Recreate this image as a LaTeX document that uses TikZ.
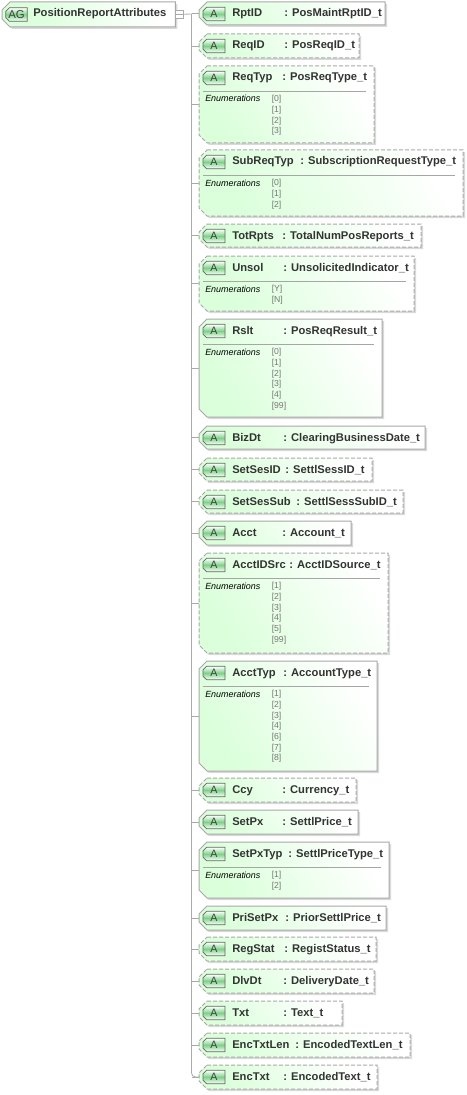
\documentclass[tikz,border=0pt]{standalone}
\usepackage{fontspec}
\setmainfont{Liberation Sans}
\usetikzlibrary{positioning,calc,shadows}

\definecolor{boxgreen}{RGB}{218,255,218}
\definecolor{badgegreen}{RGB}{125,210,135}
\definecolor{treegray}{RGB}{170,170,170}
\definecolor{edgegray}{RGB}{168,168,168}
\definecolor{enumgray}{RGB}{120,120,120}
\tikzset{
 boxnode/.style={rectangle,anchor=north west,inner sep=0pt,outer sep=0pt},
 boxshape/.style={draw=edgegray,line width=.75pt,top color=white,bottom color=boxgreen,shading angle=-60,
  drop shadow={shadow xshift=1.5pt,shadow yshift=-1.5pt,fill=black!25,opacity=.6}},
 attrreq/.style={boxshape},
 attropt/.style={boxshape,dash pattern=on 3pt off 1.5pt},
 badgenode/.style={rectangle,inner sep=0pt,outer sep=0pt,minimum width=16.5pt,minimum height=10pt},
 badgeshape/.style={draw=black!60,line width=.6pt,top color=white,bottom color=white,middle color=badgegreen},
 badgetext/.style={inner sep=0pt,font=\fontsize{8}{8}\selectfont,text=black!75},
 attrtext/.style={anchor=base west,inner sep=0pt,font=\fontsize{8.4}{9}\selectfont\bfseries,text=black!80},
 enumhead/.style={anchor=base west,inner sep=0pt,font=\fontsize{6.7}{7}\selectfont\itshape},
 enumval/.style={anchor=base west,inner sep=0pt,font=\fontsize{6.5}{7}\selectfont,text=enumgray},
 treeline/.style={draw=treegray,line width=.6pt},
}
\newcommand{\cutbox}[3]{%
\draw[#1] ($(#2.north west)+(#3,0)$) -- (#2.north east) -- (#2.south east)
 -- ($(#2.south west)+(#3,0)$) -- ($(#2.south west)+(0,-#3)$) -- ($(#2.north west)+(0,#3)$) -- cycle;}

\begin{document}
\begin{tikzpicture}[x=.75pt,y=-.75pt]
\useasboundingbox (0,0) rectangle (467,1095);
% root group
\node[boxnode,minimum width=130pt,minimum height=18.75pt] (root) at (2,2) {};
\cutbox{boxshape}{root}{8}
\node[badgenode,minimum width=16pt] (rootbadge) at (16.5,14.5) {};
\cutbox{badgeshape}{rootbadge}{3.5}
\node[badgetext,font=\fontsize{8.5}{8}\selectfont] (rootletters) at (rootbadge) {AG};
\node[attrtext] (roottext) at (33,17) {PositionReportAttributes};
\coordinate (T) at (191.5,14);
% attributes
\foreach \nm/\ytop/\ybot/\xr/\sty/\xc/\typ in {
 RptID/2/25/385/attrreq/284/PosMaintRptID\_t,
 ReqID/34/58/359/attropt/284/PosReqID\_t,
 ReqTyp/66/143/374/attropt/282/PosReqType\_t,
 SubReqTyp/150/216/463/attropt/300/SubscriptionRequestType\_t,
 TotRpts/224/247/421/attropt/282/TotalNumPosReports\_t,
 Unsol/256/311/414/attropt/283/UnsolicitedIndicator\_t,
 Rslt/319/417/382/attrreq/283/PosReqResult\_t,
 BizDt/426/449/425/attrreq/283/ClearingBusinessDate\_t,
 SetSesID/458/481/372/attropt/285/SettlSessID\_t,
 SetSesSub/490/513/403/attropt/296/SettlSessSubID\_t,
 Acct/521/545/351/attrreq/282/Account\_t,
 AcctIDSrc/553/653/388/attropt/289/AcctIDSource\_t,
 AcctTyp/661/771/377/attrreq/283/AccountType\_t,
 Ccy/778/802/356/attropt/282/Currency\_t,
 SetPx/810/834/358/attrreq/282/SettlPrice\_t,
 SetPxTyp/842/898/389/attrreq/288/SettlPriceType\_t,
 PriSetPx/906/930/386/attrreq/285/PriorSettlPrice\_t,
 RegStat/937/961/376/attropt/284/RegistStatus\_t,
 DlvDt/969/993/374/attropt/283/DeliveryDate\_t,
 Txt/1001/1025/342/attropt/283/Text\_t,
 EncTxtLen/1033/1057/410/attropt/295/EncodedTextLen\_t,
 EncTxt/1065/1089/377/attropt/283/EncodedText\_t}
{
\node[boxnode,minimum width={(\xr-199)*.75pt},minimum height={(\ybot-\ytop)*.75pt}] (\nm) at (199,\ytop) {};
\cutbox{\sty}{\nm}{8}
\draw[treeline] (T |- \nm.west) -- (\nm.west);
\node[badgenode] (\nm badge) at (214,\ytop+12) {};
\cutbox{badgeshape}{\nm badge}{3.5}
\node[badgetext] (\nm letter) at (\nm badge) {A};
\node[attrtext] (\nm name) at (232,\ytop+15) {\nm};
\node[attrtext] (\nm type) at (\xc,\ytop+15) {: \typ};
}
% trunk
\draw[treeline] (root.east) -- (T);
\draw[treeline,rounded corners=3pt] (T) -- (T |- EncTxt.west) -- (EncTxt.west);
\node[draw=treegray,fill=white,minimum size=6pt,inner sep=0pt] (toggle) at (179.5,14) {};
\draw[treeline] (toggle.west) -- (toggle.east);
% enumerations
\foreach \nm/\vals in {
 ReqTyp/{0,1,2,3},
 SubReqTyp/{0,1,2},
 Unsol/{Y,N},
 Rslt/{0,1,2,3,4,99},
 AcctIDSrc/{1,2,3,4,5,99},
 AcctTyp/{1,2,3,4,6,7,8},
 SetPxTyp/{1,2}}
{
\coordinate (\nm sep) at ($(\nm.north west)+(4,25)$);
\coordinate (\nm end) at ($(\nm.north east)+(-8,25)$);
\draw[draw=black!35,line width=.6pt] (\nm sep) -- (\nm end);
\node[enumhead] (\nm head) at ($(\nm.north west)+(6,36)$) {Enumerations};
\foreach \v [count=\i] in \vals
\node[enumval] (\nm val\i) at ($(\nm.north west)+(72.5,25+\i*10.7)$) {[\v]};
}
\end{tikzpicture}
\end{document}
